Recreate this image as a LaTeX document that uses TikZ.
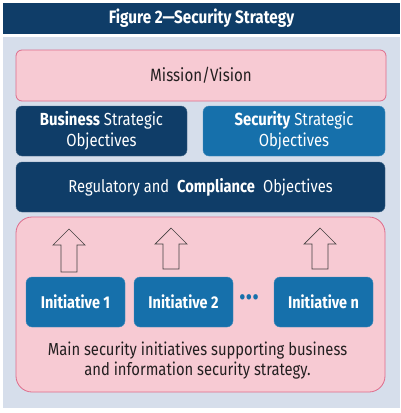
\documentclass[tikz,border=0pt]{standalone}
\usepackage{fontspec}
\setmainfont{Fira Sans}[FakeStretch=0.85]
\definecolor{navy}{HTML}{0F3D68}
\definecolor{midblue}{HTML}{1670AB}
\definecolor{pinkfill}{HTML}{F7CAD3}
\definecolor{pinkline}{HTML}{DE6C8C}
\definecolor{panel}{HTML}{D6DEEB}
\definecolor{ink}{HTML}{231F20}
\tikzset{
  box/.style={rectangle, rounded corners=6pt, minimum height=50pt, inner sep=0pt, align=center, font=\fontsize{17.5}{21}\selectfont},
  navybox/.style={box, fill=navy, draw=navy!80!white, text=white},
  bluebox/.style={box, fill=midblue, draw=midblue!80!white, text=white},
  pinkbox/.style={box, fill=pinkfill, draw=pinkline, line width=0.8pt, text=ink},
  initbox/.style={bluebox, minimum width=99pt, font=\fontsize{17}{20}\selectfont\bfseries},
  blockarrow/.style={draw=ink!85, line width=0.7pt, fill=pinkfill}
}
\newcommand{\blkarrow}[3]{% x center, tip y, bottom y
  \draw[blockarrow] (#1-8,#3) -- (#1-8,#2+16) -- (#1-16,#2+16) -- (#1,#2) -- (#1+16,#2+16) -- (#1+8,#2+16) -- (#1+8,#3) -- cycle;}
\begin{document}
\begin{tikzpicture}[x=1pt,y=-1pt]
\useasboundingbox (0,0) rectangle (400,413);
\fill[white] (0,0) rectangle (400,413);
\node[rectangle, fill=navy, minimum width=397pt, minimum height=31pt, inner sep=0pt, text=white, font=\fontsize{18}{20}\selectfont\bfseries] (title) at (201.5,18.5) {Figure 2—Security Strategy};
\fill[panel] (3,37) rectangle (400,408);
\node[pinkbox, minimum width=370pt, minimum height=51pt, font=\fontsize{17.8}{21}\selectfont] (mission) at (201,75.5) {Mission/Vision};
\node[navybox, minimum width=171pt] (business) at (101.5,131) {\textbf{Business} Strategic\\Objectives};
\node[bluebox, minimum width=182pt] (security) at (294,131) {\textbf{Security} Strategic\\Objectives};
\node[navybox, minimum width=369pt, font=\fontsize{17.3}{20}\selectfont] (regulatory) at (200.5,187) {Regulatory and\hspace{8pt}\textbf{Compliance}\hspace{8pt}Objectives};
\node[pinkbox, rounded corners=16pt, minimum width=369pt, minimum height=175pt] (initiatives) at (200.5,304.5) {};
\node[initbox] (init1) at (75.5,302) {Initiative 1};
\node[initbox] (init2) at (183.5,302) {Initiative 2};
\node[initbox] (initn) at (323.5,302) {Initiative n};
\node[text=midblue, inner sep=0pt, font=\fontsize{24}{24}\selectfont] (dots) at (249,300) {•••};
\node[align=center, text=ink, inner sep=0pt, font=\fontsize{17.4}{20}\selectfont] (caption) at (197.5,361) {Main security initiatives supporting business\\and information security strategy.};
\blkarrow{69}{229}{272}
\blkarrow{171}{228}{269}
\blkarrow{320}{228}{269}
\end{tikzpicture}
\end{document}
